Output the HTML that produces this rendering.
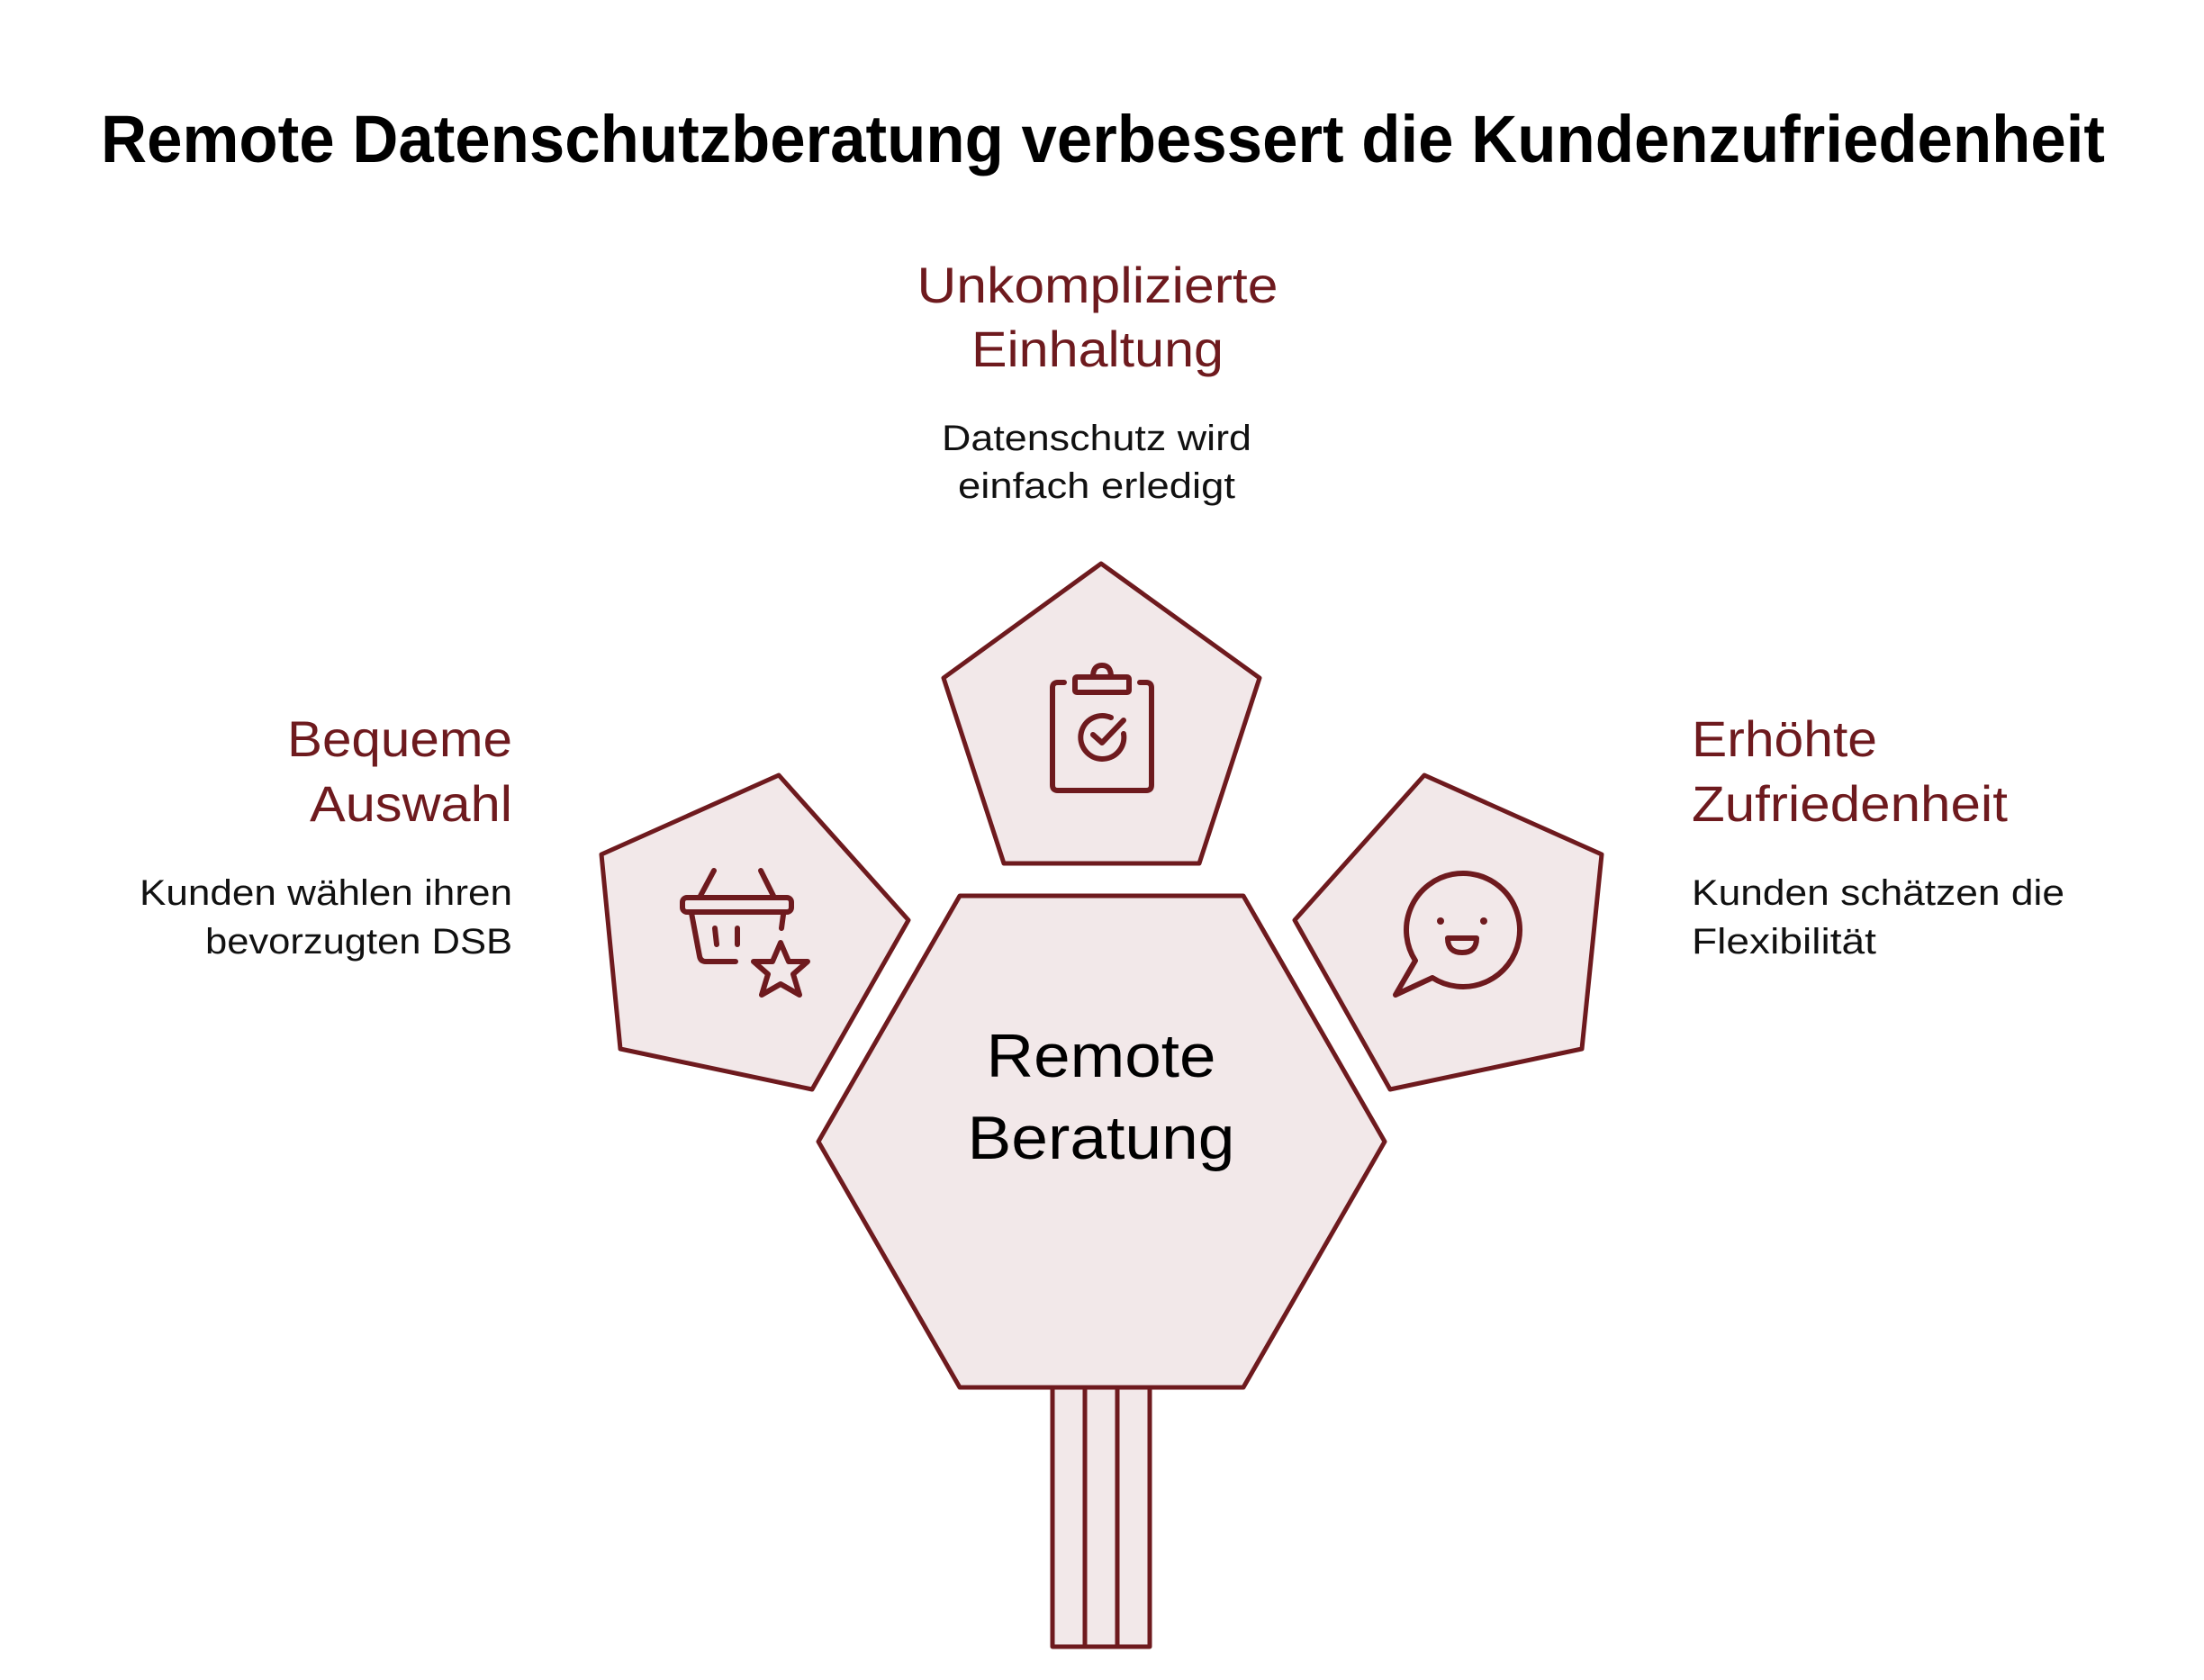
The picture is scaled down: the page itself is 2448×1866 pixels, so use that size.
<!DOCTYPE html>
<html><head><meta charset="utf-8"><style>
html,body{margin:0;padding:0;background:#fff;}
svg{display:block;}
text{font-family:"Liberation Sans",Arial,sans-serif;}
</style></head><body>
<svg width="2448" height="1866" viewBox="0 0 2448 1866" xmlns="http://www.w3.org/2000/svg">
<rect width="2448" height="1866" fill="#fff"/>
<text x="1225" y="180" text-anchor="middle" font-size="74" font-weight="bold" fill="#000" textLength="2226" lengthAdjust="spacingAndGlyphs">Remote Datenschutzberatung verbessert die Kundenzufriedenheit</text>

<g fill="#f2e8e9" stroke="#6e1a1e" stroke-width="5" stroke-linejoin="round">
<polygon points="1223,626 1399,753 1332,959 1115,959 1048,753"/>
<polygon points="865,861 668,949 689,1165 902,1210 1009,1022"/>
<polygon points="1582,861 1779,949 1757,1165 1544,1210 1438,1022"/>
<polygon points="1066,995 1381,995 1538,1268 1381,1541 1066,1541 909,1268"/>
<rect x="1169" y="1541" width="108" height="288"/>
<line x1="1205" y1="1541" x2="1205" y2="1829"/>
<line x1="1241" y1="1541" x2="1241" y2="1829"/>
</g>

<g fill="none" stroke="#6e1a1e" stroke-width="6" stroke-linecap="round" stroke-linejoin="round">
<path d="M1182,758 H1175 Q1169,758 1169,764 V872 Q1169,878 1175,878 H1273 Q1279,878 1279,872 V764 Q1279,758 1273,758 H1266"/>
<rect x="1194" y="752" width="60" height="17" rx="2"/>
<path d="M1214,752 Q1214,739 1224,739 Q1234,739 1234,752"/>
<path d="M1234,797 A24,24 0 1 0 1248,815"/>
<polyline points="1214,816 1224,825 1248,800"/>
<rect x="758" y="997" width="121" height="16" rx="5"/>
<line x1="793" y1="967" x2="778" y2="995"/>
<line x1="845" y1="967" x2="859" y2="995"/>
<path d="M768,1014 L777,1062 Q778,1068 784,1068 H817"/>
<line x1="870" y1="1016" x2="868" y2="1031"/>
<line x1="794" y1="1031" x2="796" y2="1049"/>
<line x1="819" y1="1031" x2="819" y2="1049"/>
<polygon points="867,1047 876,1068 897,1068 881,1082 888,1105 867,1093 846,1105 853,1082 837,1068 858,1068"/>
<path d="M1572,1067 L1550,1105 L1591,1086 A63,63 0 1 0 1572,1067 Z"/>
<path d="M1608,1042 H1640 Q1640,1058 1624,1058 Q1608,1058 1608,1042 Z"/>
</g>
<circle cx="1600" cy="1023" r="4" fill="#6e1a1e"/>
<circle cx="1648" cy="1023" r="4" fill="#6e1a1e"/>

<g fill="#6e1a1e" font-size="56">
<text x="1219" y="336" text-anchor="middle" textLength="401" lengthAdjust="spacingAndGlyphs">Unkomplizierte</text>
<text x="1219" y="407" text-anchor="middle" textLength="280" lengthAdjust="spacingAndGlyphs">Einhaltung</text>
<text x="569" y="840" text-anchor="end" textLength="250" lengthAdjust="spacingAndGlyphs">Bequeme</text>
<text x="569" y="912" text-anchor="end" textLength="225" lengthAdjust="spacingAndGlyphs">Auswahl</text>
<text x="1879" y="840" textLength="206" lengthAdjust="spacingAndGlyphs">Erhöhte</text>
<text x="1879" y="912" textLength="351" lengthAdjust="spacingAndGlyphs">Zufriedenheit</text>
</g>
<g fill="#111" font-size="40">
<text x="1218" y="500" text-anchor="middle" textLength="344" lengthAdjust="spacingAndGlyphs">Datenschutz wird</text>
<text x="1218" y="553" text-anchor="middle" textLength="308" lengthAdjust="spacingAndGlyphs">einfach erledigt</text>
<text x="569" y="1005" text-anchor="end" textLength="414" lengthAdjust="spacingAndGlyphs">Kunden wählen ihren</text>
<text x="569" y="1059" text-anchor="end" textLength="341" lengthAdjust="spacingAndGlyphs">bevorzugten DSB</text>
<text x="1879" y="1005" textLength="414" lengthAdjust="spacingAndGlyphs">Kunden schätzen die</text>
<text x="1879" y="1059" textLength="205" lengthAdjust="spacingAndGlyphs">Flexibilität</text>
</g>
<g fill="#000" font-size="68">
<text x="1223" y="1196" text-anchor="middle" textLength="255" lengthAdjust="spacingAndGlyphs">Remote</text>
<text x="1223" y="1287" text-anchor="middle" textLength="297" lengthAdjust="spacingAndGlyphs">Beratung</text>
</g>
</svg>
</body></html>
